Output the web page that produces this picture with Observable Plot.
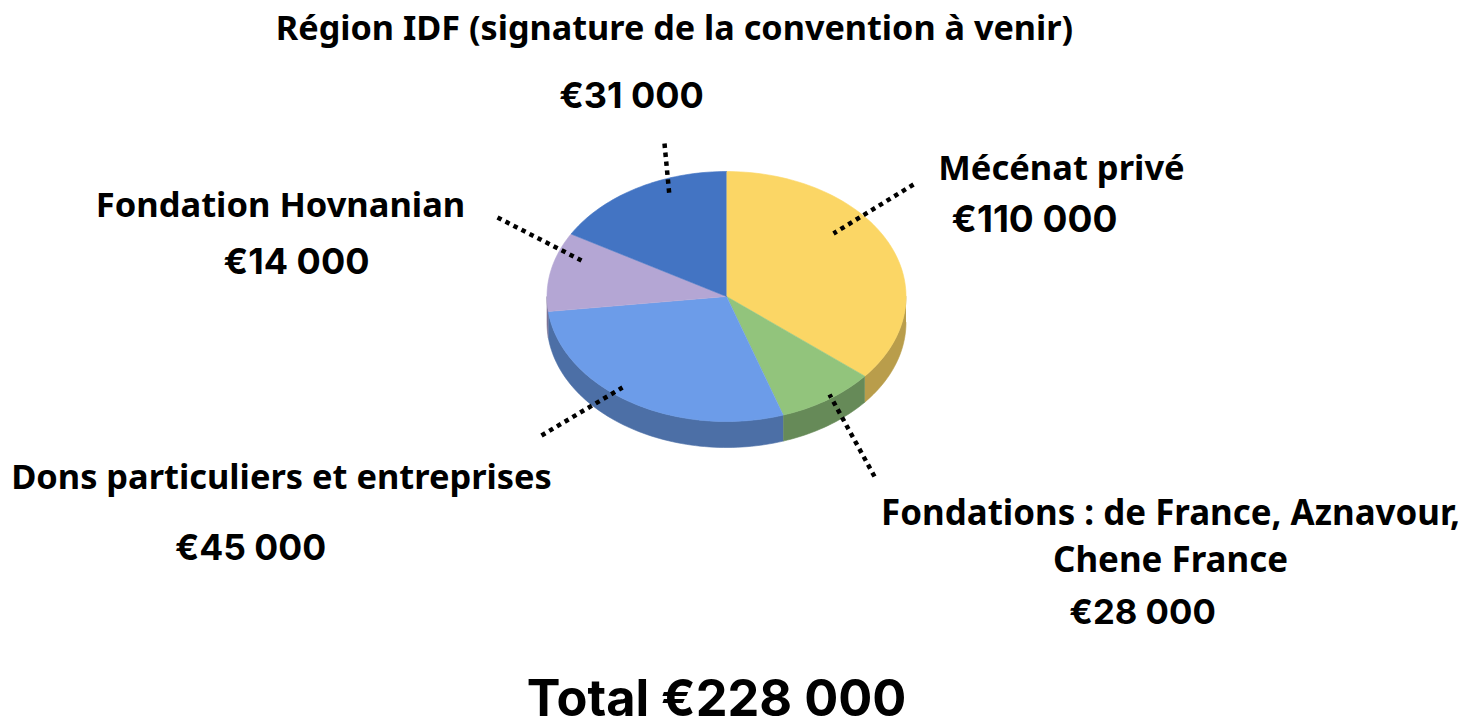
<!DOCTYPE html>
<html lang="fr">
<head>
<meta charset="utf-8">
<script src="https://cdn.jsdelivr.net/npm/d3@7"></script>
<script src="https://cdn.jsdelivr.net/npm/@observablehq/plot@0.6"></script>
<style>html,body{margin:0;padding:0;background:#fff}svg{display:block}</style>
</head>
<body>
<div id="chart"></div>
<script>
// Slices, clockwise from 12 o'clock. Sweep angles are read from the picture (the drawn pie
// does not follow the printed amounts).
const sliceNames = ["Mécénat privé", "Fondations", "Dons particuliers et entreprises", "Fondation Hovnanian", "Région IDF"];
const sliceSweepDeg = [129.6, 32, 101.5, 36.9, 60];
const topColors = ["#fbd665", "#92c47c", "#6c9ce9", "#b4a6d4", "#4374c3"];
const sideColors = ["#b99d4b", "#668a58", "#4c6fa6", "#7d7394", "#2f5189"];

// Label texts
const labelTexts = [
  "Région IDF (signature de la convention à venir)", "€31 000",
  "Mécénat privé", "€110 000",
  "Fondation Hovnanian", "€14 000",
  "Dons particuliers et entreprises", "€45 000",
  "Fondations : de France, Aznavour,", "Chene France", "€28 000",
  "Total €228 000"
];
// Layout of the annotations, in the page's 1472×720 units
const labelCenterX = [674, 631, 1061, 1034, 280, 296, 281, 250, 1170, 1170, 1142, 716];
const labelCenterY = [29, 96, 168, 220, 205, 262, 477, 548, 513, 560, 612, 699];
const labelSize = [34.2, 36, 34.5, 37, 34.5, 36, 34.4, 35.5, 34.9, 34.9, 34.7, 50.5];
const labelFont = ["'Noto Sans'", "Inter", "'Noto Sans'", "Inter", "'Noto Sans'", "Inter", "'Noto Sans'", "Inter", "'Noto Sans'", "'Noto Sans'", "Inter", "Inter"];
const leaderX1 = [664, 913, 497, 541, 874];
const leaderY1 = [143, 184, 217, 435, 476];
const leaderX2 = [669, 833, 581, 622, 829];
const leaderY2 = [196, 233, 260, 387, 394];

const cx = 726, cy = 296, rx = 179.5, ry = 125, depth = 26;
const pt = (deg, r = 1, dy = 0) => {
  const a = deg * Math.PI / 180;
  return {x: cx + rx * r * Math.sin(a), y: cy - ry * r * Math.cos(a) + dy};
};
const arc = (a0, a1) => {
  const n = Math.max(2, Math.ceil((a1 - a0) / 1.5));
  return d3.range(n + 1).map(i => a0 + (a1 - a0) * i / n);
};

let start = 0;
const tops = [], sides = [];
sliceNames.forEach((name, i) => {
  const a0 = start, a1 = start + sliceSweepDeg[i];
  start = a1;
  tops.push({name, fill: topColors[i], x: cx, y: cy});
  for (const a of arc(a0, a1)) tops.push({name, fill: topColors[i], ...pt(a)});
  const s0 = Math.max(a0, 90), s1 = Math.min(a1, 270);
  if (s1 > s0) {
    const seg = arc(s0, s1);
    for (const a of seg) sides.push({name, fill: sideColors[i], ...pt(a)});
    for (const a of seg.slice().reverse()) sides.push({name, fill: sideColors[i], ...pt(a, 1, depth)});
  }
});

const labels = labelTexts.map((text, i) => ({text, x: labelCenterX[i], y: labelCenterY[i], size: labelSize[i], font: labelFont[i]}));
const leaders = leaderX1.map((x1, i) => ({x1, y1: leaderY1[i], x2: leaderX2[i], y2: leaderY2[i]}));

const plot = Plot.plot({
  width: 1472, height: 720,
  margin: 0,
  style: {background: "#fff"},
  x: {domain: [0, 1472], range: [0, 1472], axis: null},
  y: {domain: [0, 720], range: [0, 720], axis: null},
  marks: [
    Plot.line(sides, {x: "x", y: "y", z: "name", fill: "fill", stroke: "fill", strokeWidth: 0.6}),
    Plot.line(tops, {x: "x", y: "y", z: "name", fill: "fill", stroke: "fill", strokeWidth: 0.6}),
    Plot.link(leaders, {x1: "x1", y1: "y1", x2: "x2", y2: "y2", stroke: "#000", strokeWidth: 4.5, strokeDasharray: "4.5 4.5", strokeLinecap: "butt"}),
    ...labels.map(l => Plot.text([l], {
      x: "x", y: "y", text: "text", fontSize: l.size, fontWeight: 700,
      fontFamily: `${l.font}, sans-serif`, fill: "#000", textAnchor: "middle", lineAnchor: "middle"
    }))
  ]
});
document.getElementById("chart").append(plot);
</script>
</body>
</html>
